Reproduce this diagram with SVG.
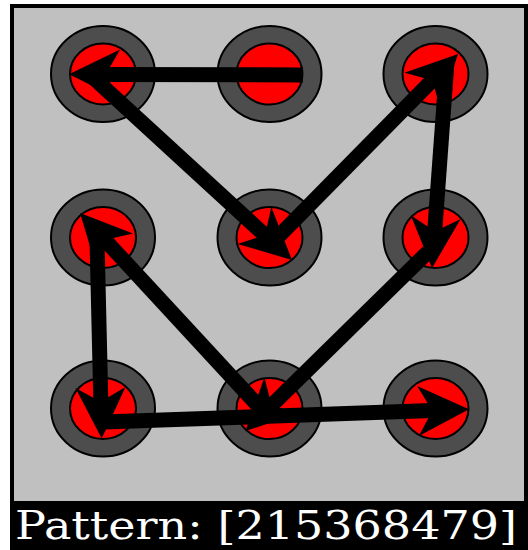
<svg xmlns="http://www.w3.org/2000/svg" width="528" height="550" viewBox="0 0 528 550">
<style>
.ring{fill:#4d4d4d;stroke:#000;stroke-width:2}
.dot{fill:#ff0000;stroke:#000;stroke-width:2}
.arrow{stroke:#000;stroke-width:15;fill:none;marker-end:url(#head)}
.label{font-family:"DejaVu Serif","Liberation Serif",serif;font-size:39px;fill:#fff}
</style>
<defs>
<marker id="head" markerUnits="strokeWidth" viewBox="-1.5 -1.8 3.6 3.6" refX="0" refY="0" markerWidth="3.6" markerHeight="3.6" orient="auto" overflow="visible">
<path d="M2,0 L-1.4,-1.667 L-0.733,-0.5 L-0.733,0.5 L-1.4,1.667 Z" fill="#000"/>
</marker>
</defs>
<rect x="0" y="0" width="528" height="550" fill="#fff"/>
<rect id="frame" x="10" y="4" width="518" height="546" fill="#000"/>
<rect id="board" x="14" y="8" width="510" height="493" fill="#c0c0c0"/>
<g id="node1"><ellipse class="ring" cx="103" cy="74" rx="52" ry="48"/><ellipse class="dot" cx="103" cy="74" rx="33" ry="30.5"/></g>
<g id="node2"><ellipse class="ring" cx="269.5" cy="74" rx="52" ry="48"/><ellipse class="dot" cx="269.5" cy="74" rx="33" ry="30.5"/></g>
<g id="node3"><ellipse class="ring" cx="435.5" cy="74" rx="52" ry="48"/><ellipse class="dot" cx="435.5" cy="74" rx="33" ry="30.5"/></g>
<g id="node4"><ellipse class="ring" cx="103" cy="237.5" rx="52" ry="48"/><ellipse class="dot" cx="103" cy="237.5" rx="33" ry="30.5"/></g>
<g id="node5"><ellipse class="ring" cx="269.5" cy="237.5" rx="52" ry="48"/><ellipse class="dot" cx="269.5" cy="237.5" rx="33" ry="30.5"/></g>
<g id="node6"><ellipse class="ring" cx="435.5" cy="237.5" rx="52" ry="48"/><ellipse class="dot" cx="435.5" cy="237.5" rx="33" ry="30.5"/></g>
<g id="node7"><ellipse class="ring" cx="103" cy="408.5" rx="52" ry="48"/><ellipse class="dot" cx="103" cy="408.5" rx="33" ry="30.5"/></g>
<g id="node8"><ellipse class="ring" cx="269.5" cy="408.5" rx="52" ry="48"/><ellipse class="dot" cx="269.5" cy="408.5" rx="33" ry="30.5"/></g>
<g id="node9"><ellipse class="ring" cx="435.5" cy="408.5" rx="52" ry="48"/><ellipse class="dot" cx="435.5" cy="408.5" rx="33" ry="30.5"/></g>
<g id="connectors">
<path class="arrow" d="M303,75 L99,74.4"/>
<path class="arrow" d="M86,71 L269.9,239.7"/>
<path class="arrow" d="M272,243 L437,75.4"/>
<path class="arrow" d="M447,62 L434.2,238.1"/>
<path class="arrow" d="M428,252 L266.9,410"/>
<path class="arrow" d="M264,412 L100.4,235"/>
<path class="arrow" d="M97,240 L101,408.5"/>
<path class="arrow" d="M103,422 L439,410.3"/>
</g>
<text class="label" x="15" y="539" textLength="502" lengthAdjust="spacingAndGlyphs">Pattern: [215368479]</text>
</svg>
